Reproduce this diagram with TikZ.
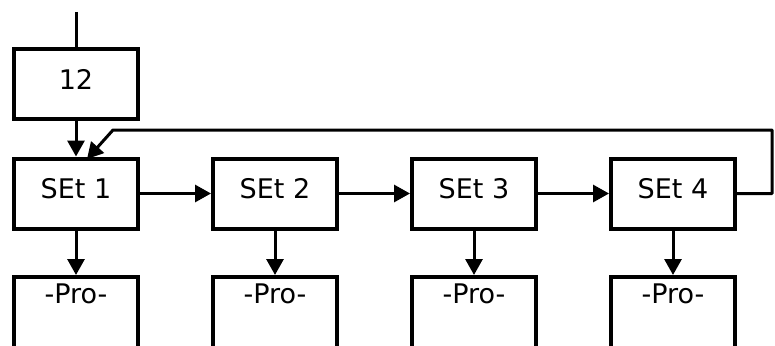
\documentclass[tikz,border=0pt]{standalone}
\usepackage{fontspec}
\setmainfont{DejaVu Sans}
\usetikzlibrary{arrows.meta}
\begin{document}
\begin{tikzpicture}[x=1pt,y=-1pt,
  box/.style={draw=black,line width=4pt,fill=white,minimum width=124pt,inner sep=0pt,
    font=\fontsize{27pt}{32pt}\selectfont},
  setbox/.style={box,minimum height=70pt,text height=20pt,text depth=10pt},
  probox/.style={box,anchor=north,inner ysep=6pt,text height=20pt,text depth=70pt},
  conn/.style={draw=black,line width=3pt},
  arr/.style={conn,-{Triangle[length=16pt,width=17pt]}}]
\useasboundingbox (0,0) rectangle (775,345);
\clip (0,0) rectangle (775,345);
\coordinate (start) at (76,12);
\node[setbox] (b12) at (76,84) {12};
\node[setbox] (s1) at (76,193.5) {SEt 1};
\node[setbox] (s2) at (275,193.5) {SEt 2};
\node[setbox] (s3) at (474,193.5) {SEt 3};
\node[setbox] (s4) at (673,193.5) {SEt 4};
\node[probox] (p1) at (76,275) {-Pro-};
\node[probox] (p2) at (275,275) {-Pro-};
\node[probox] (p3) at (474,275) {-Pro-};
\node[probox] (p4) at (673,275) {-Pro-};
\coordinate (fbR) at (772,130);
\coordinate (fbL) at (113,130);
\coordinate (fbEnd) at (87,159);
\draw[conn] (start) -- (b12.north);
\draw[arr] (b12.south) -- (s1.north);
\draw[arr] (s1.east) -- (s2.west);
\draw[arr] (s2.east) -- (s3.west);
\draw[arr] (s3.east) -- (s4.west);
\foreach \i in {1,2,3,4}{\draw[arr] (s\i.south) -- (p\i.north);}
\draw[arr,line join=round] (s4.east) -| (fbR) -- (fbL) -- (fbEnd);
\end{tikzpicture}
\end{document}
